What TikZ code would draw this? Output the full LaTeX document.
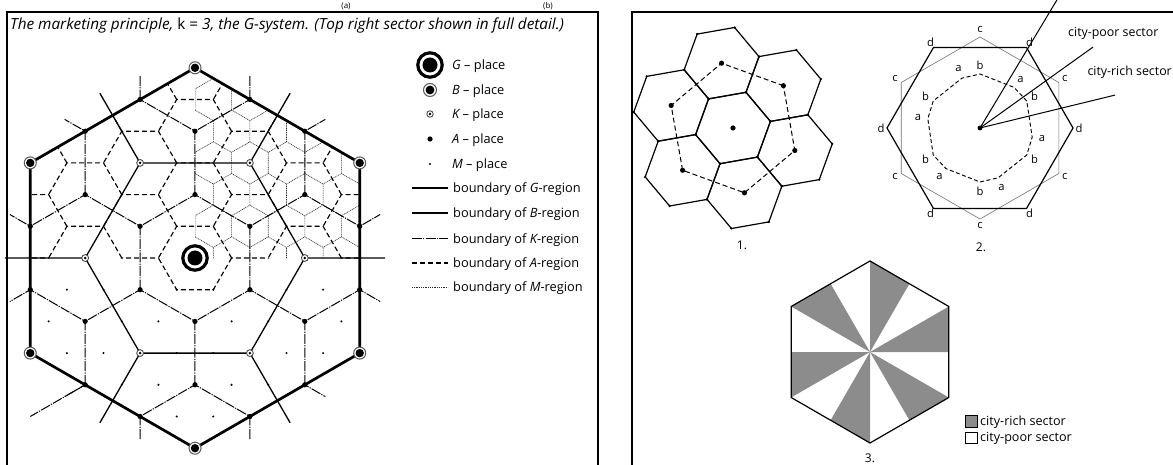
\documentclass[tikz,border=0pt]{standalone}
\usepackage{fontspec}
\setmainfont{Open Sans}
\begin{document}
\begin{tikzpicture}[x=1pt,y=1pt,
  gline/.style={line width=2.7pt, line join=round},
  bline/.style={line width=1.3pt},
  kline/.style={line width=1pt, dash pattern=on 10pt off 1.2pt on 1.2pt off 1.2pt},
  aline/.style={line width=1.15pt, dash pattern=on 5pt off 3pt},
  mline/.style={line width=0.6pt, black!85, dash pattern=on 1pt off 0.8pt},
  panel/.style={line width=1.8pt},
  legtext/.style={font=\fontsize{12.8}{15}\selectfont, inner sep=0pt, anchor=base west},
  lettr/.style={font=\fontsize{11.2}{12}\selectfont, inner sep=0pt},
  hexline/.style={line width=1.2pt, line join=round},
  Gring/.style={line width=3.2pt, fill=white},
  Bring/.style={line width=1pt, black!65, fill=white},
  Kring/.style={line width=0.9pt, black!70, fill=white},
]
\useasboundingbox (0,0) rectangle (1173,464);
\fill[white] (0,0) rectangle (1173,464);

% panels
\draw[panel] (7,-2) -- (7,452) -- (598,452) -- (598,-2);
\draw[panel] (632,-2) -- (632,452) -- (1176,452);

% captions above the panels
\node[font=\fontsize{8}{9}\selectfont, anchor=base, inner sep=0pt] (capa) at (346,455.5) {(a)};
\node[font=\fontsize{8}{9}\selectfont, anchor=base, inner sep=0pt] (capb) at (548,455.5) {(b)};

% title
\node[font=\fontsize{15.3}{17}\selectfont\itshape, anchor=base west, inner sep=0pt] (title) at (10,434)
  {The marketing principle, \upshape k = \itshape 3, the G-system. (Top right sector shown in full detail.)};

% ================= left map =================
\begin{scope}[shift={(195,206)}]
  % M-region boundaries (top right sector)
  \begin{scope}
    \clip (0,-0.6) -- (0,190.2) -- (164.7,95.1) -- (164.7,-0.6) -- cycle;
    \foreach \j in {-1,...,7}{\foreach \i in {-8,...,6}{
      \draw[mline, shift={({(\i)*36.6+(\j)*18.3},{(\j)*31.695})}]
        (-30:21.13) -- (30:21.13) -- (90:21.13) -- (150:21.13);
    }}
  \end{scope}
  % A-region boundaries (upper half)
  \begin{scope}
    \clip (-164.7,-0.6) -- (150:190.2) -- (90:190.2) -- (30:190.2) -- (164.7,-0.6) -- cycle;
    \foreach \a in {-4,...,4}{\foreach \b in {-7,...,7}{
      \draw[aline, shift={({(\a)*54.9},{(\a)*31.695+(\b)*63.39})}]
        (0:36.6) -- (60:36.6) -- (120:36.6) -- (180:36.6);
    }}
  \end{scope}
  \draw[aline] (0:36.6) -- (-60:36.6) -- (-120:36.6) -- (180:36.6);
  % K and B boundaries
  \begin{scope}
    \clip (0,0) circle (190.2);
    \foreach \a in {-4,...,4}{\foreach \b in {-4,...,4}{
      \draw[kline, shift={({(\a)*109.8+(\b)*54.9},{(\b)*95.09})}]
        (-30:63.39) -- (30:63.39) -- (90:63.39) -- (150:63.39);
    }}
    \foreach \a in {-3,...,3}{\foreach \b in {-3,...,3}{
      \draw[bline, shift={({(\a)*164.7},{(\a)*95.1+(\b)*190.2})}]
        (0:109.8) -- (60:109.8) -- (120:109.8) -- (180:109.8);
    }}
  \end{scope}
  % the longer K-boundary at the lower left
  \coordinate (kl1) at (-109.8,-126.8);
  \coordinate (kl2) at (-164.7,-158.5);
  \draw[kline] (kl1) -- (kl2);
  % G boundary
  \draw[gline] (30:190.2) -- (90:190.2) -- (150:190.2) -- (210:190.2) -- (270:190.2) -- (330:190.2) -- cycle;
  % M places (lower half)
  \begin{scope}
    \clip (30:190.2) -- (90:190.2) -- (150:190.2) -- (210:190.2) -- (270:190.2) -- (330:190.2) -- cycle;
    \foreach \j in {-6,...,-1}{\foreach \i in {-8,...,9}{
      \pgfmathtruncatemacro{\ism}{mod(\i-\j+30,3)}
      \ifnum\ism>0
        \fill ({(\i)*36.6+(\j)*18.3},{(\j)*31.695}) circle (1.15);
      \fi
    }}
  \end{scope}
  % A places
  \begin{scope}
    \clip (30:196) -- (90:196) -- (150:196) -- (210:196) -- (270:196) -- (330:196) -- cycle;
    \foreach \a in {-4,...,4}{\foreach \b in {-7,...,7}{
      \pgfmathtruncatemacro{\isk}{mod(\a-\b+30,3)}
      \ifnum\isk>0
        \fill ({(\a)*54.9},{(\a)*31.695+(\b)*63.39}) circle (2.6);
      \fi
    }}
  \end{scope}
  % K places
  \foreach \t in {0,60,...,300}{
    \draw[Kring] (\t:109.8) circle (3.4);
    \fill (\t:109.8) circle (1.4);
  }
  % B places
  \foreach \t in {30,90,...,330}{
    \draw[Bring] (\t:190.2) circle (6);
    \fill (\t:190.2) circle (4.2);
  }
  % G place
  \draw[Gring] (0,0) circle (12.2);
  \fill (0,0) circle (7.5);
\end{scope}

% ================= legend =================
\draw[Gring] (430,399) circle (12.2); \fill (430,399) circle (7.5);
\node[legtext] (lg) at (452,394.5) {\itshape G\upshape\ -- place};
\draw[Bring] (430,374) circle (6.5); \fill (430,374) circle (4.4);
\node[legtext] (lb) at (452,369.5) {\itshape B\upshape\ -- place};
\draw[Kring] (430,350) circle (3.2); \fill (430,350) circle (1.3);
\node[legtext] (lk) at (452,345.5) {\itshape K\upshape\ -- place};
\fill (430,325) circle (2.6);
\node[legtext] (la) at (452,320.5) {\itshape A\upshape\ -- place};
\fill (430,300) circle (1.2);
\node[legtext] (lm) at (452,295.5) {\itshape M\upshape\ -- place};
\draw[gline] (412,276) -- (448,276);
\node[legtext] (bg) at (453,271.5) {boundary of \itshape G\upshape-region};
\draw[bline] (412,251) -- (448,251);
\node[legtext] (bb) at (453,246.5) {boundary of \itshape B\upshape-region};
\draw[kline] (412,225) -- (448,225);
\node[legtext] (bk) at (453,220.5) {boundary of \itshape K\upshape-region};
\draw[aline] (412,201) -- (448,201);
\node[legtext] (ba) at (453,196.5) {boundary of \itshape A\upshape-region};
\draw[mline, line width=0.7pt] (412,177) -- (448,177);
\node[legtext] (bm) at (453,172.5) {boundary of \itshape M\upshape-region};

% ================= right panel: diagram 1 =================
\begin{scope}[shift={(733,336)}]
  \foreach \t in {40,100,...,340}{
    \begin{scope}[shift={(\t:65.8)}]
      \draw[hexline] (10:38) -- (70:38) -- (130:38) -- (190:38) -- (250:38) -- (310:38) -- cycle;
      \foreach \v in {10,70,...,310} \fill (\v:38) circle (1.3);
    \end{scope}
  }
  \draw[hexline] (10:38) -- (70:38) -- (130:38) -- (190:38) -- (250:38) -- (310:38) -- cycle;
  \draw[line width=1pt, dash pattern=on 5pt off 3pt] (40:65.8) -- (100:65.8) -- (160:65.8) -- (220:65.8) -- (280:65.8) -- (340:65.8) -- cycle;
  \foreach \t in {40,100,...,340} \fill (\t:65.8) circle (2.6);
  \fill (0,0) circle (2.6);
  \node[font=\fontsize{12}{14}\selectfont, inner sep=0pt] (n1) at (9,-117) {1.};
\end{scope}

% ================= right panel: diagram 2 =================
\begin{scope}[shift={(980,336)}]
  \draw[line width=0.6pt, black!55] (30:91) -- (90:91) -- (150:91) -- (210:91) -- (270:91) -- (330:91) -- cycle;
  \draw[hexline] (0:93) -- (60:93) -- (120:93) -- (180:93) -- (240:93) -- (300:93) -- cycle;
  \draw[line width=0.95pt, dash pattern=on 4pt off 2.5pt]
    (30:54) -- (50:53) -- (90:54) -- (110:53) -- (150:54) -- (170:53) -- (210:54) -- (230:53)
    -- (270:54) -- (290:53) -- (330:54) -- (350:53) -- cycle;
  \fill (0,0) circle (2.4);
  \draw[line width=1pt] (0,0) -- (59:152);
  \draw[line width=1pt] (0,0) -- (35.6:139);
  \draw[line width=1pt] (0,0) -- (13.7:139);
  \foreach \t in {0,60,...,300} \node[lettr] at (\t:99) {d};
  \foreach \t in {30,90,...,330} \node[lettr] at (\t:98) {c};
  \foreach \t in {50,110,...,350} \node[lettr] at (\t:63) {a};
  \foreach \t in {30,90,...,330} \node[lettr] at (\t:63) {b};
  \node[font=\fontsize{12}{14}\selectfont, inner sep=0pt] (n2) at (1,-119) {2.};
\end{scope}
\node[font=\fontsize{12.4}{14}\selectfont, inner sep=0pt, anchor=base west] (poor) at (1068,427) {city-poor sector};
\node[font=\fontsize{12.4}{14}\selectfont, inner sep=0pt, anchor=base east] (rich) at (1172,388) {city-rich sector};

% ================= right panel: diagram 3 =================
\begin{scope}[shift={(870,112)}]
  \foreach \t in {0,60,...,300}
    \fill[black!45] (0,0) -- (\t:78.8) -- (\t+30:91) -- cycle;
  \draw[hexline] (30:91) -- (90:91) -- (150:91) -- (210:91) -- (270:91) -- (330:91) -- cycle;
  \node[font=\fontsize{12}{14}\selectfont, inner sep=0pt, anchor=south] (n3) at (0,-111) {3.};
\end{scope}
\filldraw[fill=black!45, draw=black, line width=0.6pt] (965,37) rectangle (977,49);
\draw[line width=0.6pt] (965,21) rectangle (977,32);
\node[font=\fontsize{12.6}{14}\selectfont, inner sep=0pt, anchor=base west] (lrich) at (980,38.5) {city-rich sector};
\node[font=\fontsize{12.6}{14}\selectfont, inner sep=0pt, anchor=base west] (lpoor) at (980,22.5) {city-poor sector};
\end{tikzpicture}
\end{document}
